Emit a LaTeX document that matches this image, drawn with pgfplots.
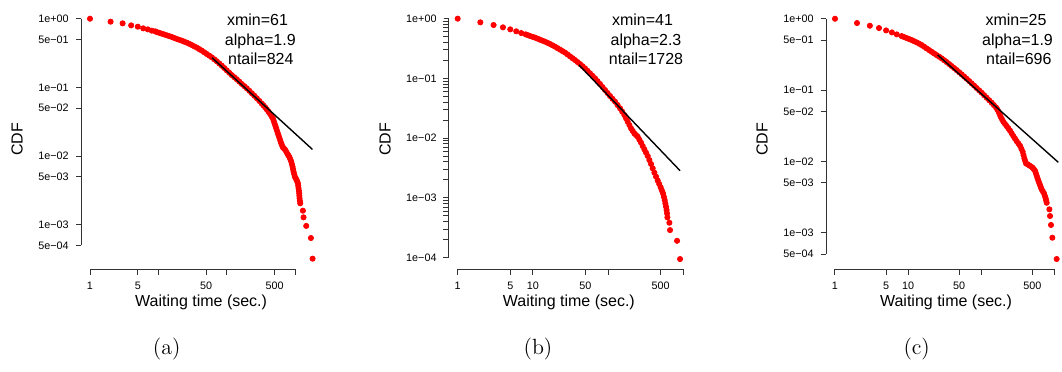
\documentclass[border=0pt]{standalone}
\usepackage{fontspec}
\newfontfamily\hv{Liberation Sans}
\usepackage{pgfplots}
\pgfplotsset{compat=1.18}
\pgfplotsset{rstyle/.style={
  scale only axis, width=120pt, height=130.1pt,
  axis x line*=bottom, axis y line*=left,
  axis line style={draw=none},
  tick align=outside, major tick length=2.65pt,
  minor xtick={}, minor ytick={},
  tick style={black!80, line width=0.5pt},
  tick label style={font=\hv\fontsize{5.4}{6}\selectfont},
  xtick={1,5,10,50,100,500,1000},
  xlabel={Waiting time (sec.)}, ylabel={CDF},
  xlabel style={font=\hv\fontsize{8}{9}\selectfont, at={(axis description cs:0.5,-0.141)}, anchor=base},
  ylabel style={font=\hv\fontsize{8}{9}\selectfont, at={(axis description cs:-0.2433,0.5)}, anchor=base},
  clip=false, clip marker paths=true,
  anchor=north west,
}}
\begin{document}
\begin{tikzpicture}
% ---------------- (a)
\begin{axis}[xmode=log, ymode=log, rstyle, at={(40.55pt,-4.55pt)},
  xmin=0.741, xmax=2399, ymin=2.239e-4, ymax=1.380,
  xticklabels={1,5,,50,,500,},
  ytick={0.0005,0.001,0.005,0.01,0.05,0.1,0.5,1},
  yticklabels={5e−04,1e−03,5e−03,1e−02,5e−02,1e−01,5e−01,1e+00}]
\draw[line width=0.5pt, black!80] ({axis cs:1,1}|-{rel axis cs:0,0}) -- ({axis cs:1000,1}|-{rel axis cs:0,0});
\draw[line width=0.5pt, black!80] ({rel axis cs:0,0}|-{axis cs:1,1}) -- ({rel axis cs:0,0}|-{axis cs:1,0.0005});
\addplot[only marks, mark=*, mark size=1.3pt, red, mark options={draw=none, fill=red}] table {
x y
1 1.0
2 0.905
3 0.856
4 0.80
5 0.766
6 0.724
7 0.70
8 0.67
9.46 0.640
11.2 0.606
13.3 0.573
15.7 0.542
18.6 0.507
22.0 0.479
26.0 0.448
30.8 0.414
36.5 0.379
43.1 0.343
51.1 0.306
60.4 0.274
71.6 0.240
84.7 0.207
100 0.177
118.6 0.151
140.4 0.131
166.2 0.112
196.7 0.0968
232.8 0.082
275.5 0.0693
326.2 0.058
364.7 0.0513
408 0.0444
441.6 0.0397
472.4 0.0355
499.7 0.030
528.7 0.0254
559.4 0.0214
591.7 0.0181
626 0.0153
662 0.0134
716 0.0123
775 0.0107
829 0.0096
877 0.0083
917 0.0070
948 0.00593
993 0.0050
1050 0.00449
1098 0.00401
1122 0.0034
1148 0.00287
1161 0.00243
1188 0.00205
1300 0.0016
1328 0.00128
1454 0.00096
1703 0.00064
1800 0.00032
9 0.655
10.3 0.623
12.2 0.589
14.45 0.557
17.1 0.524
20.2 0.493
23.9 0.463
28.3 0.431
33.5 0.396
39.7 0.3606
46.9 0.324
55.6 0.2896
65.8 0.2564
77.9 0.2229
92.0 0.1914
108.9 0.1635
129.0 0.1406
152.8 0.1211
180.8 0.1041
214.0 0.0891
253.3 0.0754
299.8 0.0634
344.9 0.0545
385.7 0.0477
424.5 0.0420
456.7 0.0375
485.9 0.0326
514.0 0.0276
543.8 0.0233
575.3 0.0197
608.6 0.01664
643.7 0.01432
688.5 0.01284
744.9 0.01147
801.5 0.01014
852.7 0.00893
896.8 0.00762
932.4 0.00644
970.3 0.00545
1021 0.00474
1074 0.00424
1110 0.00369
1135 0.00312
1154 0.00264
1174 0.00223
};
\addplot[black, line width=0.7pt] coordinates {(61,0.27) (1790,0.0125)};
\end{axis}
% ---------------- (b)
\begin{axis}[xmode=log, ymode=log, rstyle, at={(224.45pt,-4.55pt)},
  xmin=0.764, xmax=1186, ymin=6.4e-5, ymax=1.445,
  xticklabels={1,5,10,50,,500,},
  ytick={0.0001,0.001,0.01,0.1,1},
  yticklabels={1e−04,1e−03,1e−02,1e−01,1e+00}]
\draw[line width=0.5pt, black!80] ({axis cs:1,1}|-{rel axis cs:0,0}) -- ({axis cs:1000,1}|-{rel axis cs:0,0});
\draw[line width=0.5pt, black!80] ({rel axis cs:0,0}|-{axis cs:1,1}) -- ({rel axis cs:0,0}|-{axis cs:1,0.0001});
\addplot[only marks, mark=*, mark size=1.3pt, red, mark options={draw=none, fill=red}] table {
x y
1 1.0
2 0.868
3 0.783
4 0.716
5 0.663
6 0.614
7 0.575
8 0.547
9.16 0.513
10.7 0.481
12.4 0.445
14.5 0.412
16.9 0.377
19.7 0.340
23.0 0.303
26.8 0.270
31.2 0.234
36.3 0.203
42.4 0.174
49.3 0.1475
57.5 0.1216
67.0 0.1003
78.1 0.0806
91.0 0.064
106.1 0.0508
123.7 0.0408
144.2 0.0316
164.6 0.0244
182.2 0.0189
201.7 0.0146
223.4 0.0120
247.5 0.0106
274.1 0.00841
303.6 0.0065
336.3 0.00503
372.4 0.0037
412.5 0.00265
456.9 0.00195
500.5 0.0015
537.5 0.00119
565.8 0.00092
589.5 0.000714
607.9 0.000552
614 0.000473
653 0.000385
666 0.00029
826 0.000192
905 0.000095
8.56 0.5297
9.9 0.4968
11.52 0.4627
13.41 0.4282
15.65 0.3941
18.25 0.358
21.29 0.321
24.83 0.286
28.92 0.2514
33.65 0.2179
39.23 0.188
45.72 0.1602
53.24 0.1339
62.07 0.1104
72.34 0.0899
84.3 0.0718
98.26 0.0570
114.6 0.04553
133.6 0.0359
154.1 0.02777
173.2 0.02147
191.7 0.01661
212.3 0.01324
235.1 0.01128
260.5 0.00944
288.5 0.00739
319.5 0.00572
353.9 0.00431
391.9 0.00313
434.1 0.00227
478.2 0.00171
518.7 0.001336
551.5 0.001046
577.5 0.000810
598.6 0.000628
};
\addplot[black, line width=0.7pt] coordinates {(41,0.168) (905,0.00286)};
\end{axis}
% ---------------- (c)
\begin{axis}[xmode=log, ymode=log, rstyle, at={(413pt,-4.55pt)},
  xmin=0.7534, xmax=1445, ymin=3.055e-4, ymax=1.365,
  xticklabels={1,5,10,50,,500,},
  ytick={0.0005,0.001,0.005,0.01,0.05,0.1,0.5,1},
  yticklabels={5e−04,1e−03,5e−03,1e−02,5e−02,1e−01,5e−01,1e+00}]
\draw[line width=0.5pt, black!80] ({axis cs:1,1}|-{rel axis cs:0,0}) -- ({axis cs:1000,1}|-{rel axis cs:0,0});
\draw[line width=0.5pt, black!80] ({rel axis cs:0,0}|-{axis cs:1,1}) -- ({rel axis cs:0,0}|-{axis cs:1,0.0005});
\addplot[only marks, mark=*, mark size=1.3pt, red, mark options={draw=none, fill=red}] table {
x y
1 1.0
2 0.87
3 0.798
4 0.74
5 0.686
6 0.643
7 0.603
8.17 0.571
9.55 0.536
11.2 0.502
13.1 0.466
15.3 0.428
17.9 0.384
21.0 0.344
24.6 0.309
28.8 0.278
33.7 0.247
39.4 0.217
46.2 0.1905
54.1 0.1657
63.3 0.144
74.1 0.124
86.7 0.1066
101.5 0.0916
118.8 0.078
139 0.0664
159.4 0.057
173.2 0.0496
184.6 0.0422
200.8 0.0359
223 0.0312
247.8 0.0269
275.1 0.0226
305.6 0.0192
339.5 0.01655
369.3 0.01364
389.2 0.011
410 0.00935
455.4 0.00877
505.7 0.00813
544.5 0.00738
574 0.00628
605 0.00534
637 0.00465
672 0.00404
723 0.00355
762 0.00302
787 0.00262
856 0.00212
874 0.00171
901 0.00128
940 0.000848
1077 0.000426
8.83 0.553
10.34 0.5187
12.11 0.4837
14.16 0.4466
16.55 0.4054
19.39 0.3634
22.73 0.326
26.62 0.2931
31.15 0.262
36.44 0.2315
42.66 0.2033
50.0 0.1777
58.52 0.1545
68.49 0.1336
80.15 0.115
93.81 0.0988
109.8 0.0845
128.5 0.072
148.9 0.0615
166.2 0.0532
178.8 0.04575
192.5 0.0389
211.6 0.03347
235.1 0.02897
261.1 0.02466
289.9 0.02083
322.1 0.01783
354.1 0.01502
379.1 0.01225
399.5 0.01014
432.1 0.00906
479.9 0.00844
524.7 0.00775
559.1 0.00681
589.3 0.00579
620.8 0.00498
654.3 0.00433
697.1 0.00379
742.3 0.00327
774.4 0.00281
};
\addplot[black, line width=0.7pt] coordinates {(25.4,0.31) (1135,0.00968)};
\end{axis}
% annotations
\begin{scope}[every node/.style={anchor=base, font=\hv\fontsize{8}{9}\selectfont, inner sep=0pt}]
\node at (128.75pt,-12.5pt) {xmin=61};
\node at (130.15pt,-22.5pt) {alpha=1.9};
\node at (130.4pt,-32.15pt) {ntail=824};
\node at (321.25pt,-12.5pt) {xmin=41};
\node at (323pt,-22.5pt) {alpha=2.3};
\node at (323pt,-32.15pt) {ntail=1728};
\node at (508pt,-12.5pt) {xmin=25};
\node at (508.75pt,-22.5pt) {alpha=1.9};
\node at (509.4pt,-32.15pt) {ntail=696};
\end{scope}
\begin{scope}[every node/.style={anchor=base, font=\fontsize{11}{13}\selectfont, inner sep=0pt}]
\node at (83.35pt,-177pt) {(a)};
\node at (269pt,-177pt) {(b)};
\node at (458.35pt,-177pt) {(c)};
\end{scope}
\pgfresetboundingbox
\useasboundingbox (0pt,0pt) rectangle (531pt,-185.5pt);
\end{tikzpicture}
\end{document}
